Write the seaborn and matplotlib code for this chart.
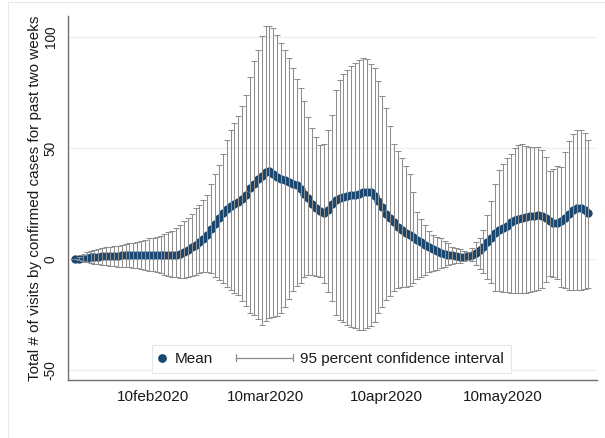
import numpy as np
import pandas as pd
import matplotlib
matplotlib.use("Agg")
import matplotlib.pyplot as plt
import matplotlib.dates as mdates
import seaborn as sns
from matplotlib.lines import Line2D
from matplotlib.legend_handler import HandlerBase
from matplotlib.patches import Rectangle

# ---------------- data ----------------
start_date = "2020-01-21"

mean_visits = [
    0.0, 0.2, 0.4, 0.6, 0.8, 1.0, 1.1, 1.2, 1.3, 1.4,
    1.5, 1.5, 1.6, 1.6, 1.7, 1.7, 1.8, 1.8, 1.8, 1.8,
    1.8, 1.8, 1.8, 1.8, 1.8, 1.8, 1.9, 2.3, 3.0, 4.0,
    5.2, 6.5, 7.8, 9.0, 11.0, 13.5, 16.0, 18.5, 20.7, 22.5,
    24.0, 25.0, 25.5, 27.0, 29.0, 32.0, 34.0, 36.0, 37.5, 39.0,
    39.5, 38.5, 37.0, 36.0, 35.5, 34.8, 34.0, 33.2, 31.5, 29.5,
    27.5, 25.0, 23.0, 21.5, 20.8, 22.0, 25.0, 26.5, 27.5, 28.0,
    28.3, 28.7, 29.0, 29.5, 30.0, 30.2, 30.0, 28.5, 26.0, 23.5,
    20.5, 18.5, 16.5, 14.5, 13.0, 11.8, 10.8, 9.8, 8.8, 7.5,
    6.5, 5.3, 4.5, 3.8, 2.8, 2.4, 2.0, 1.7, 1.4, 1.1,
    1.0, 1.5, 2.0, 2.8, 4.0, 5.5, 7.5, 9.5, 11.7, 13.0,
    14.0, 15.0, 16.5, 17.5, 18.0, 18.5, 19.0, 19.3, 19.6, 19.8,
    19.5, 18.5, 17.0, 16.2, 16.2, 17.0, 18.5, 20.5, 22.0, 22.8,
    23.0, 22.3, 20.7,
]

ci_upper = [
    0.2, 1.0, 2.0, 3.0, 3.8, 4.2, 4.6, 5.0, 5.3, 5.5,
    5.7, 6.0, 6.3, 6.6, 7.0, 7.4, 7.8, 8.3, 8.8, 9.3,
    9.6, 10.0, 10.5, 11.5, 12.0, 12.8, 14.0, 15.5, 17.0, 18.5,
    20.5, 23.0, 24.5, 26.5, 29.0, 34.0, 38.5, 42.5, 47.5, 53.5,
    58.0, 61.5, 64.5, 69.0, 74.0, 82.0, 89.0, 94.0, 100.5, 105.0,
    104.8, 104.0, 101.0, 97.5, 94.0, 90.5, 86.0, 81.0, 77.0, 71.0,
    64.0, 59.0, 55.0, 51.5, 52.0, 58.0, 65.0, 76.0, 80.5, 83.5,
    85.0, 87.0, 88.5, 89.6, 90.5, 90.0, 88.0, 86.0, 80.0, 73.5,
    68.0, 60.0, 52.0, 48.5, 45.5, 42.0, 38.5, 30.0, 21.0, 18.0,
    15.5, 12.5, 10.8, 10.0, 9.5, 8.0, 7.0, 5.5, 5.0, 4.3,
    3.5, 3.2, 5.0, 7.5, 9.5, 13.0, 20.0, 26.0, 34.0, 40.0,
    43.0, 45.5, 47.5, 50.0, 51.5, 52.0, 51.0, 50.5, 50.5, 50.5,
    49.0, 46.0, 39.5, 40.5, 42.0, 41.5, 48.0, 53.0, 56.5, 58.0,
    58.0, 57.0, 53.6,
]

ci_lower = [
    -0.2, -0.6, -1.0, -1.4, -1.8, -2.1, -2.4, -2.6, -2.8, -3.0,
    -3.2, -3.4, -3.6, -3.7, -3.8, -4.0, -4.2, -4.5, -4.8, -5.2,
    -5.6, -6.0, -6.5, -7.0, -7.5, -8.0, -8.3, -8.7, -8.7, -8.2,
    -7.8, -7.0, -6.5, -6.0, -5.9, -6.5, -8.0, -9.5, -11.0, -12.6,
    -14.0, -15.5, -16.2, -19.0, -21.0, -24.5, -25.0, -27.0, -29.5, -28.0,
    -26.6, -26.0, -25.5, -24.5, -21.5, -18.0, -14.5, -12.0, -11.0, -8.0,
    -7.0, -7.0, -7.5, -8.0, -11.0, -15.0, -19.0, -25.0, -27.5, -28.5,
    -29.5, -30.5, -31.0, -32.0, -32.0, -31.0, -30.0, -28.5, -24.5, -21.5,
    -18.5, -16.5, -14.5, -13.0, -12.8, -12.5, -12.0, -11.0, -9.0, -8.0,
    -7.0, -6.0, -5.5, -4.8, -4.0, -3.5, -2.8, -2.3, -2.0, -1.8,
    -1.0, -0.5, -1.0, -2.5, -4.5, -6.5, -9.0, -11.0, -14.5, -14.5,
    -15.0, -15.0, -15.5, -15.5, -15.5, -15.5, -15.5, -15.0, -14.5, -14.0,
    -13.0, -10.5, -7.5, -8.0, -9.0, -12.5, -13.0, -14.0, -14.0, -14.0,
    -14.0, -13.5, -13.0,
]

tick_dates = ["2020-02-10", "2020-03-10", "2020-04-10", "2020-05-10"]
tick_labels = ["10feb2020", "10mar2020", "10apr2020", "10may2020"]
y_ticks = [-50, 0, 50, 100]
y_label = "Total # of visits by confirmed cases for past two weeks"
legend_labels = ["Mean", "95 percent confidence interval"]

# ---------------- frame ----------------
dates = pd.date_range(start_date, periods=len(mean_visits), freq="D")
df = pd.DataFrame({"date": dates, "mean": mean_visits,
                   "lo": ci_lower, "hi": ci_upper})

NAVY = "#1a476f"
GREY = "#8e8e8e"
AXC = "#707070"

sns.set_theme(style="white")
plt.rcParams["font.family"] = ["Liberation Sans", "DejaVu Sans"]

fig = plt.figure(figsize=(6.05, 4.38), dpi=100)
fig.patch.set_facecolor("white")
fig.patches.append(Rectangle((8 / 605, -0.01), 1.0, 1.0 - 2 / 438 + 0.01,
                             transform=fig.transFigure, fill=False,
                             edgecolor="#e4eaec", lw=0.8))

ax = fig.add_axes([68 / 605, 58 / 438, 529 / 605, 364 / 438])

yerr = [df["mean"] - df["lo"], df["hi"] - df["mean"]]
ax.errorbar(df["date"], df["mean"], yerr=yerr, fmt="none",
            ecolor=GREY, elinewidth=0.75, capsize=2.4, capthick=0.75,
            zorder=3)
sns.scatterplot(data=df, x="date", y="mean", color=NAVY, s=36,
                linewidth=0, ax=ax, zorder=2, legend=False)

# axes limits
d0 = mdates.date2num(pd.Timestamp(start_date))
ax.set_xlim(d0 - 1.8, d0 + 134.2)
ax.set_ylim(-54.5, 109.5)

ax.set_xticks(pd.to_datetime(tick_dates))
ax.set_xticklabels(tick_labels, fontsize=11, color="#1a1a1a")
ax.set_yticks(y_ticks)
ax.set_yticklabels([str(v) for v in y_ticks], rotation=90, va="center",
                   fontsize=9.8, color="#1a1a1a")
ax.tick_params(axis="both", direction="out", length=4.3, width=0.8,
               color=AXC)
ax.tick_params(axis="x", pad=3)
ax.tick_params(axis="y", pad=3)

ax.set_xlabel("")
ax.set_ylabel(y_label, fontsize=11, color="#1a1a1a")
ax.yaxis.set_label_coords(-0.05, 0.5)

ax.yaxis.grid(True, color="#e9f1f3", lw=1.0)
ax.xaxis.grid(False)
ax.set_axisbelow(True)

for s in ["top", "right"]:
    ax.spines[s].set_visible(False)
for s in ["left", "bottom"]:
    ax.spines[s].set_color(AXC)
    ax.spines[s].set_linewidth(1.0)


# ---------------- legend ----------------
class HandlerCap(HandlerBase):
    def create_artists(self, legend, orig_handle, xdescent, ydescent,
                       width, height, fontsize, trans):
        x1 = width - xdescent
        x0 = x1 - 41
        y = height / 2 - ydescent
        h = 2.3
        kw = dict(color=GREY, lw=0.9, transform=trans)
        return [Line2D([x0, x1], [y, y], **kw),
                Line2D([x0, x0], [y - h, y + h], **kw),
                Line2D([x1, x1], [y - h, y + h], **kw)]


class HandlerDot(HandlerBase):
    def create_artists(self, legend, orig_handle, xdescent, ydescent,
                       width, height, fontsize, trans):
        x = -xdescent + 2.0
        y = height / 2 - ydescent
        return [Line2D([x], [y], marker="o", ls="none", color=NAVY,
                       markersize=6.3, markeredgewidth=0, transform=trans)]


mean_handle = Line2D([], [], marker="o", ls="none", color=NAVY)
ci_handle = Line2D([], [], color=GREY)
leg = ax.legend([mean_handle, ci_handle], legend_labels,
                handler_map={ci_handle: HandlerCap(),
                             mean_handle: HandlerDot()},
                ncol=2, loc="center left",
                bbox_to_anchor=((152 - 68) / 529, 0.058),
                fontsize=11, handlelength=0.6, handletextpad=0.45,
                columnspacing=4.65, borderpad=0.45, borderaxespad=0,
                frameon=True, fancybox=False, framealpha=1,
                edgecolor="#e1e8eb")
leg.get_frame().set_linewidth(0.8)
for t in leg.get_texts():
    t.set_color("#1a1a1a")

fig.savefig("out.png", dpi=100)
